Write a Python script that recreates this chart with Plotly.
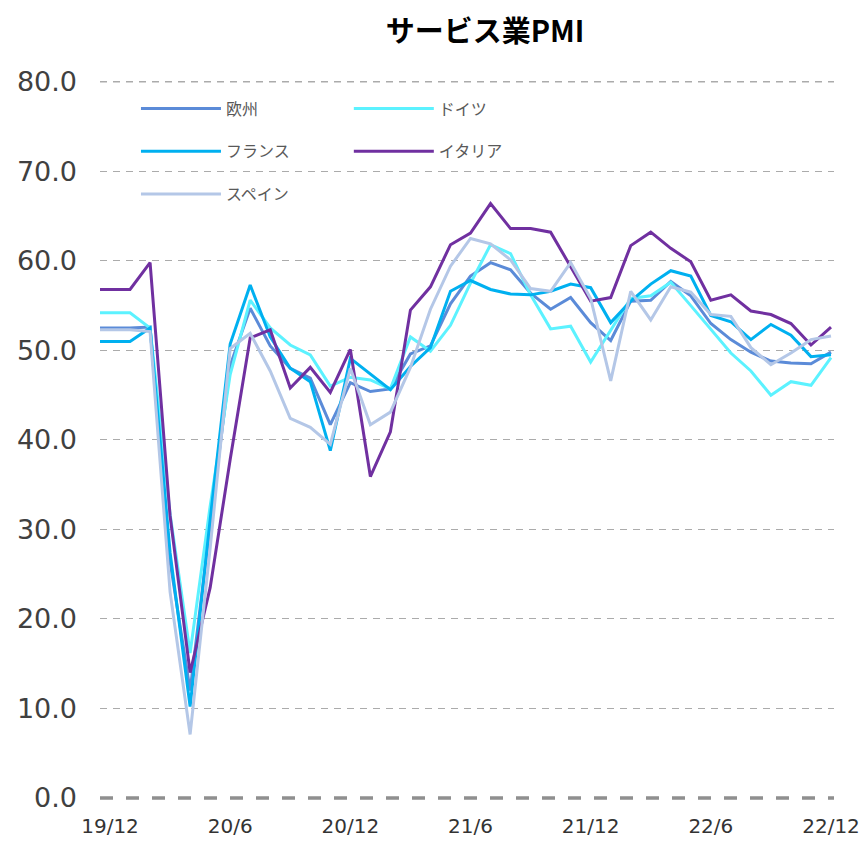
import plotly.graph_objects as go

# Months (19/11 is only the clipped lead-in point at the left edge)
months = ["19/11", "19/12",
          "20/1", "20/2", "20/3", "20/4", "20/5", "20/6", "20/7", "20/8", "20/9", "20/10", "20/11", "20/12",
          "21/1", "21/2", "21/3", "21/4", "21/5", "21/6", "21/7", "21/8", "21/9", "21/10", "21/11", "21/12",
          "22/1", "22/2", "22/3", "22/4", "22/5", "22/6", "22/7", "22/8", "22/9", "22/10", "22/11", "22/12"]
tick_labels = ["19/12", "20/6", "20/12", "21/6", "21/12", "22/6", "22/12"]
y_ticks = [0, 10, 20, 30, 40, 50, 60, 70, 80]

europe = [52.5, 52.5, 52.5, 52.6, 26.4, 12.0, 30.5, 48.3, 54.7, 50.5, 48.0, 46.9, 41.7, 46.4,
          45.4, 45.7, 49.6, 50.5, 55.2, 58.3, 59.8, 59.0, 56.4, 54.6, 55.9, 53.1,
          51.1, 55.5, 55.6, 57.7, 56.1, 53.0, 51.2, 49.8, 48.8, 48.6, 48.5, 49.8]
germany = [54.2, 54.2, 54.2, 52.5, 31.7, 16.2, 32.6, 47.3, 55.6, 52.5, 50.6, 49.5, 46.0, 47.0,
           46.7, 45.7, 51.5, 49.9, 52.8, 57.5, 61.8, 60.8, 56.2, 52.4, 52.7, 48.7,
           52.2, 55.8, 56.1, 57.6, 55.0, 52.4, 49.7, 47.7, 45.0, 46.5, 46.1, 49.2]
france = [51.0, 51.0, 51.0, 52.5, 27.4, 10.2, 31.1, 50.7, 57.3, 51.5, 48.0, 46.5, 38.8, 49.1,
          47.3, 45.6, 48.2, 50.3, 56.6, 57.8, 56.8, 56.3, 56.2, 56.6, 57.4, 57.0,
          53.1, 55.5, 57.4, 58.9, 58.3, 53.9, 53.2, 51.2, 52.9, 51.7, 49.3, 49.5]
italy = [56.8, 56.8, 56.8, 59.8, 31.5, 14.0, 23.5, 37.8, 51.4, 52.3, 45.8, 48.1, 45.3, 50.1,
         35.9, 40.9, 54.5, 57.1, 61.8, 63.1, 66.4, 63.6, 63.6, 63.2, 59.3, 55.5,
         55.9, 61.7, 63.2, 61.4, 59.9, 55.6, 56.2, 54.4, 54.0, 53.0, 50.6, 52.6]
spain = [52.3, 52.3, 52.3, 52.1, 23.0, 7.1, 27.9, 50.2, 51.9, 47.7, 42.4, 41.4, 39.5, 48.0,
         41.7, 43.1, 48.1, 54.6, 59.4, 62.5, 61.9, 60.1, 56.9, 56.6, 59.8, 55.8,
         46.6, 56.6, 53.4, 57.1, 56.5, 54.0, 53.8, 50.3, 48.4, 49.7, 51.2, 51.6]

x = list(range(-1, len(months) - 1))
tick_vals = [x[months.index(t)] for t in tick_labels]

series = [
    ("欧州", europe, "#5B8BD8", "legend"),
    ("ドイツ", germany, "#5CF2FF", "legend2"),
    ("フランス", france, "#00B0F0", "legend"),
    ("イタリア", italy, "#7030A0", "legend2"),
    ("スペイン", spain, "#B4C7E7", "legend"),
]

fig = go.Figure()
for name, vals, color, lg in series:
    fig.add_trace(go.Scatter(
        x=x, y=vals, name=name, mode="lines",
        line=dict(color=color, width=3),
        legend=lg, legendgroup=name,
        text=months, hovertemplate="%{text}: %{y:.1f}<extra>" + name + "</extra>",
    ))

legend_font = dict(family="Noto Sans CJK JP, sans-serif", size=16, color="#595959")
grid_color = "#ABABAB"

fig.update_layout(
    width=863, height=841,
    margin=dict(l=100, r=29, t=80, b=43, autoexpand=False),
    paper_bgcolor="white", plot_bgcolor="white",
    title=dict(text="<b>サービス業PMI</b>", x=0.562, xanchor="center", y=0.962, yanchor="middle",
               font=dict(family="Noto Sans CJK JP, sans-serif", size=29, color="#000000")),
    legend=dict(x=0.049, y=0.984, xanchor="left", yanchor="top", orientation="v",
                font=legend_font, itemwidth=80, tracegroupgap=19, bgcolor="rgba(0,0,0,0)"),
    legend2=dict(x=0.339, y=0.984, xanchor="left", yanchor="top", orientation="v",
                 font=legend_font, itemwidth=80, tracegroupgap=19, bgcolor="rgba(0,0,0,0)"),
    xaxis=dict(range=[-0.5, 36.15], tickmode="array", tickvals=tick_vals, ticktext=tick_labels,
               showgrid=False, zeroline=False, showline=False, ticks="", automargin=False,
               tickfont=dict(family="DejaVu Sans, Verdana, sans-serif", size=20, color="#333333"),
               ticklabelstandoff=14),
    yaxis=dict(range=[0, 80.2], tickvals=y_ticks, tickformat=".1f", automargin=False,
               showgrid=True, gridcolor=grid_color, griddash="7px,6px", gridwidth=1.3,
               zeroline=False, showline=False, ticks="",
               tickfont=dict(family="DejaVu Sans, Verdana, sans-serif", size=27, color="#404040"),
               ticklabelstandoff=22),
    shapes=[
        dict(type="line", xref="paper", yref="paper", x0=0, x1=1, y0=0, y1=0,
             line=dict(color="#8F8F8F", width=3.5, dash="13px,13px"), layer="above"),
        dict(type="line", xref="paper", yref="y", x0=0, x1=1, y0=y_ticks[-1], y1=y_ticks[-1],
             line=dict(color=grid_color, width=1.3, dash="7px,6px"), layer="below"),
    ],
    showlegend=True,
)

fig.write_html("out.html", config={"displayModeBar": False},
               post_script="document.body.style.margin='0';")
